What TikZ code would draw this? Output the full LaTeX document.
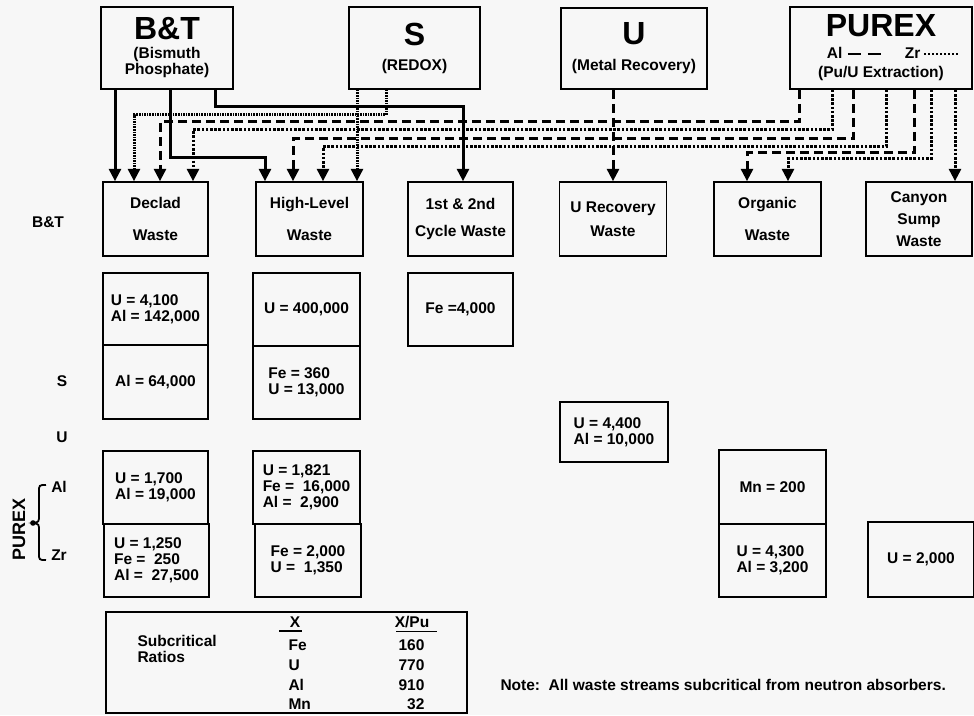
\documentclass[tikz,border=0pt]{standalone}
\usepackage{fontspec}
\setmainfont{Liberation Sans}
\usetikzlibrary{arrows.meta}
\newcommand{\bigtitle}{\fontsize{32}{32}\selectfont}
\newcommand{\legline}[1]{\tikz[baseline=-0.6ex]\draw[#1] (0pt,0pt) -- (34pt,0pt);}

\begin{document}
\begin{tikzpicture}[x=1pt, y=-1pt,
  every node/.style={font=\fontsize{15.5}{16}\selectfont\bfseries},
  plant/.style={rectangle, draw=black, line width=1.6pt, inner sep=0pt, align=center},
  waste/.style={rectangle, draw=black, line width=1.5pt, minimum height=74pt,
                inner sep=0pt, align=center},
  val/.style={rectangle, draw=black, line width=1.5pt, minimum height=73pt,
              inner sep=0pt, align=left},
  rowlbl/.style={inner sep=0pt},
  flow/.style={line width=3pt, -{Triangle[length=12.5pt,width=12pt]}},
  btflow/.style={flow},
  alflow/.style={flow, dash pattern=on 9pt off 5pt},
  zrflow/.style={flow, dash pattern=on 2.6pt off 1.6pt},
  sflow/.style={flow, dash pattern=on 1.6pt off 1pt},
  uflow/.style={flow, dash pattern=on 9pt off 5pt},
  alleg/.style={line width=2.2pt, dash pattern=on 13pt off 7pt},
  zrleg/.style={line width=2.2pt, dash pattern=on 2pt off 2pt}
]
\fill[black!3] (0,0) rectangle (974,715);
\useasboundingbox (0,0) rectangle (974,715);

% Plants
\node[plant, minimum width=132pt, minimum height=82pt] (bt) at (167,48)
  {{\bigtitle B\&T}\\[3pt](Bismuth\\Phosphate)};
\node[plant, minimum width=131pt, minimum height=82pt] (s) at (414.5,48)
  {{\bigtitle S}\\[9pt](REDOX)};
\node[plant, minimum width=146pt, minimum height=81pt] (u) at (634,48.5)
  {{\bigtitle U}\\[10pt](Metal Recovery)};
\node[plant, minimum width=182pt, minimum height=82pt] (purex) at (881,48)
  {{\bigtitle PUREX}\\[6pt]\hspace*{24pt}Al \legline{alleg}\hspace{22pt}Zr\,\legline{zrleg}\\[3pt](Pu/U Extraction)};

% Waste streams
\node[waste, minimum width=105pt] (declad) at (155.5,219) {Declad\\[16pt]Waste};
\node[waste, minimum width=107pt] (hl)     at (309.5,219) {High-Level\\[16pt]Waste};
\node[waste, minimum width=105pt] (cyc)    at (460.5,219) {1st \& 2nd\\[11pt]Cycle Waste};
\node[waste, minimum width=107pt] (urec)   at (613,219)   {U Recovery\\[8pt]Waste};
\node[waste, minimum width=107pt] (org)    at (767.5,219) {Organic\\[16pt]Waste};
\node[waste, minimum width=106pt] (canyon) at (919,219)   {Canyon\\[6pt]Sump\\[6pt]Waste};

% Row labels
\node[rowlbl] (lbt) at (48,222) {B\&T};
\node[rowlbl] (ls)  at (62,381) {S};
\node[rowlbl] (lu)  at (62,437) {U};
\node[rowlbl] (lal) at (59,487) {Al};
\node[rowlbl] (lzr) at (59,555) {Zr};
\node[rowlbl, rotate=90, font=\fontsize{18}{18}\selectfont\bfseries] (lpurex) at (19,529) {PUREX};
\draw[line width=1.8pt] (46,485) .. controls (39,485) .. (39,492) -- (39,515)
  .. controls (39,522) .. (33,523) .. controls (39,524) .. (39,531) -- (39,553)
  .. controls (39,560) .. (46,560);
\fill (33,523) circle (2.8pt);

% Values
\node[val, minimum width=105pt, minimum height=72pt] (dbt) at (155.5,309) {U = 4,100\\Al = 142,000};
\node[val, minimum width=105pt, minimum height=74pt] (ds)  at (155.5,382) {Al = 64,000};
\node[val, minimum width=107pt] (hbt) at (306.5,309.5) {U = 400,000};
\node[val, minimum width=107pt] (hs)  at (306.5,382.5) {Fe = 360\\U = 13,000};
\node[val, minimum width=105pt] (cbt) at (460.5,309.5) {Fe =4,000};
\node[val, minimum width=108pt, minimum height=60pt] (uu) at (614,432) {U = 4,400\\Al = 10,000};
\node[val, minimum width=105pt] (dal) at (155.5,487.5) {U = 1,700\\Al = 19,000};
\node[val, minimum width=105pt] (dzr) at (156.5,560.5) {U = 1,250\\Fe = \ 250\\Al = \ 27,500};
\node[val, minimum width=107pt] (hal) at (306.5,487.5) {U = 1,821\\Fe = \ 16,000\\Al = \ 2,900};
\node[val, minimum width=106pt] (hzr) at (308,560.5)   {Fe = 2,000\\U = \ 1,350};
\node[val, minimum width=107pt, minimum height=74pt] (oal) at (772.5,487) {Mn = 200};
\node[val, minimum width=107pt] (ozr) at (772.5,560.5) {U = 4,300\\Al = 3,200};
\node[val, minimum width=106pt, minimum height=75pt] (czr) at (921,559.5) {U = 2,000};

% Ratios table
\node[val, minimum width=361pt, minimum height=101pt] (ratios) at (286.5,662.5) {};
\node[anchor=west, align=left] (sub) at (134,649) {Subcritical\\Ratios};
\node (hx)  at (295,622) {X};
\node (hxp) at (412,622) {X/Pu};
\draw[line width=1.3pt] (hx.south west -| 279,0) -- (hx.south east -| 302,0);
\draw[line width=1.3pt] (hxp.south west -| 396,0) -- (hxp.south east -| 437,0);
\node[anchor=west] (xfe) at (285,645) {Fe};
\node[anchor=west] (xu)  at (285,665) {U};
\node[anchor=west] (xal) at (285,685) {Al};
\node[anchor=west] (xmn) at (285,704) {Mn};
\node[anchor=east] (rfe) at (428,645) {160};
\node[anchor=east] (ru)  at (428,665) {770};
\node[anchor=east] (ral) at (428,685) {910};
\node[anchor=east] (rmn) at (428,704) {32};

\node[anchor=west] (note) at (497,685) {Note:\ \ All waste streams subcritical from neutron absorbers.};

% B&T -> waste
\draw[btflow] ([xshift=-52pt]bt.south) -- ([xshift=-40.5pt]declad.north);
\draw[btflow] ([xshift=3pt]bt.south) -- ++(0,68) -| ([xshift=-44.5pt]hl.north);
\draw[btflow] ([xshift=48pt]bt.south) -- ++(0,17) -| ([xshift=2.5pt]cyc.north);

% S -> waste
\draw[sflow] ([xshift=-28.5pt]s.south) -- ++(0,25) -| ([xshift=-21.5pt]declad.north);
\draw[sflow] ([xshift=-57.5pt]s.south) -- ([xshift=47.5pt]hl.north);

% U -> waste
\draw[uflow] ([xshift=-21pt]u.south) -- (urec.north);

% PUREX -> waste
\draw[alflow] ([xshift=-82pt]purex.south) -- ++(0,32) -| ([xshift=4.5pt]declad.north);
\draw[zrflow] ([xshift=-49pt]purex.south) -- ++(0,40) -| ([xshift=37.5pt]declad.north);
\draw[alflow] ([xshift=-28pt]purex.south) -- ++(0,49) -| ([xshift=-16.5pt]hl.north);
\draw[zrflow] ([xshift=5pt]purex.south) -- ++(0,57) -| ([xshift=13.5pt]hl.north);
\draw[alflow] ([xshift=33pt]purex.south) -- ++(0,63) -| ([xshift=-20.5pt]org.north);
\draw[zrflow] ([xshift=50pt]purex.south) -- ++(0,69) -| ([xshift=20.5pt]org.north);
\draw[zrflow] ([xshift=74pt]purex.south) -- ([xshift=36pt]canyon.north);

\end{tikzpicture}
\end{document}
